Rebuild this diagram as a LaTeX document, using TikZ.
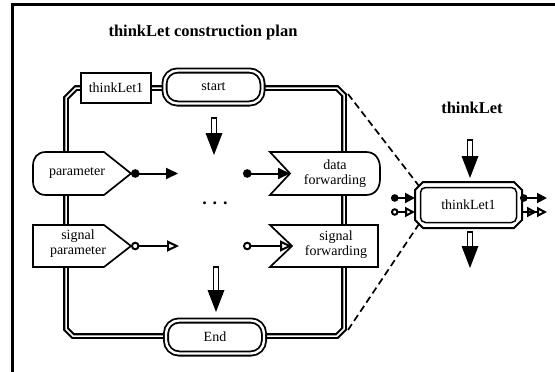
\documentclass[tikz,border=0pt]{standalone}
\usepackage{fontspec}
\setmainfont{Liberation Serif}
\usetikzlibrary{arrows.meta}

\newcommand\lblfont{\fontsize{14}{15}\selectfont}
\newcommand\ttlfont{\bfseries\fontsize{16.5}{18}\selectfont}
% thick downward flow arrow: hollow shaft, solid head (x, top, tip)
\newcommand\flowdown[3]{%
  \draw[line width=1.7pt, fill=white] (#1-2.6,#2) rectangle (#1+2.6,#3-20);
  \fill (#1-8.5,#3-22) -- (#1+8.5,#3-22) -- (#1,#3) -- cycle;}

\tikzset{
  frameline/.style={draw=black, line width=2.1pt, double=white, double distance=1.5pt, line join=miter},
  capsule/.style={draw=black, line width=1.8pt, double=white, double distance=2.4pt,
    rounded corners=13pt, fill=white, minimum width=98pt, minimum height=33pt, font=\lblfont},
  plainbox/.style={draw=black, line width=1.6pt, fill=white, minimum width=70pt, minimum height=30pt, font=\lblfont},
  shapeline/.style={draw=black, line width=1.7pt, fill=white, line join=miter},
  lbl/.style={font=\lblfont, align=center, inner sep=0pt},
  dataflow/.style={line width=2pt, {Circle[length=8.5pt]}-{Triangle[length=12pt,width=11pt]}},
  signalflow/.style={line width=2pt, {Circle[open,length=8.5pt]}-{Triangle[open,length=12pt,width=11pt]}},
  dataport/.style={line width=2pt, {Circle[length=7.5pt]}-{Triangle[length=10pt,width=10pt]}},
  signalport/.style={line width=2pt, {Circle[open,length=7.5pt]}-{Triangle[open,length=10pt,width=10pt]}},
  signalout/.style={line width=2pt, -{Triangle[open,length=10pt,width=10pt] Triangle[open,length=10pt,width=10pt]}},
  dashline/.style={line width=1.7pt, dash pattern=on 7pt off 4pt},
}

\begin{document}
\begin{tikzpicture}[x=1pt,y=-1pt]
\useasboundingbox (0,0) rectangle (555,372);

% page border
\draw[line width=2.8pt] (12.2,372) -- (12.2,4.3) -- (555,4.3);

% headings
\node[font=\ttlfont] (plantitle) at (203,33) {thinkLet construction plan};
\node[font=\ttlfont] (lettitle) at (472,108) {thinkLet};

% construction plan frame
\coordinate (ftr) at (348,94);
\coordinate (fbr) at (348,330);
\draw[frameline] (76,88) -- (337,88) -- (344,95) -- (344,329) -- (337,336)
  -- (73,336) -- (66,329) -- (66,98) -- cycle;

% frame elements
\node[plainbox] (tl1) at (116,88) {thinkLet1};
\node[capsule] (start) at (213.5,87) {start};
\node[capsule] (end) at (215,337) {End};

% parameter shapes
\draw[shapeline] (104,152) -- (46,152) .. controls (37,152) and (33,158) .. (33,166)
  -- (33,181) .. controls (33,189) and (37,195) .. (46,195) -- (104,195) -- (131,173.5) -- cycle;
\draw[shapeline] (33,225) -- (104,225) -- (131,246) -- (104,267) -- (33,267) -- cycle;

% forwarding shapes
\draw[shapeline] (270,152) -- (366,152) .. controls (376,152) and (380,160) .. (380,168)
  -- (380,179) .. controls (380,187) and (376,195) .. (366,195) -- (270,195) -- (290,173.5) -- cycle;
\draw[shapeline] (270,225) -- (378,225) -- (378,267) -- (270,267) -- (292,246) -- cycle;

\node[lbl] (param) at (77,173) {parameter};
\node[lbl] (sigparam) at (78,244) {signal\\parameter};
\node[lbl] (datafwd) at (335,174) {data\\forwarding};
\node[lbl] (sigfwd) at (336,245) {signal\\forwarding};

% data and signal connectors
\coordinate (ptip) at (131,173.5);
\coordinate (pend) at (178,173.5);
\coordinate (dstart) at (243,173.5);
\coordinate (dnotch) at (290,173.5);
\coordinate (stip) at (131,246);
\coordinate (send) at (179,246);
\coordinate (fstart) at (243,246);
\coordinate (fnotch) at (292,246);
\draw[dataflow] (ptip) -- (pend);
\draw[dataflow] (dstart) -- (dnotch);
\draw[signalflow] (stip) -- (send);
\draw[signalflow] (fstart) -- (fnotch);

\node[font=\bfseries\fontsize{18}{18}\selectfont, inner sep=0pt] (gap) at (215,203) {.\hspace{6pt}.\hspace{6pt}.};

% control flow arrows
\flowdown{214}{118}{155}
\flowdown{216}{267}{312}

% thinkLet symbol
\draw[shapeline, line width=2pt] (423,182) -- (514,182) -- (522,190) -- (522,220) -- (514,228)
  -- (423,228) -- (415,220) -- (415,190) -- cycle;
\draw[line width=1.5pt, rounded corners=5pt] (420.5,187.5) rectangle (516.5,222.5);
\node[lbl] (tlet) at (468.5,205) {thinkLet1};
\coordinate (otl) at (419,186);
\coordinate (obl) at (419,224);

\draw[dataport] (391,198) -- (415,198);
\draw[signalport] (391,212) -- (415,212);
\draw[dataport] (520,198) -- (547,198);
\draw[signalout] (522,212) -- (547,212);

\flowdown{470}{140}{178}
\flowdown{470}{232}{268}

% zoom lines
\draw[dashline] (ftr) -- (otl);
\draw[dashline] (fbr) -- (obl);
\end{tikzpicture}
\end{document}
